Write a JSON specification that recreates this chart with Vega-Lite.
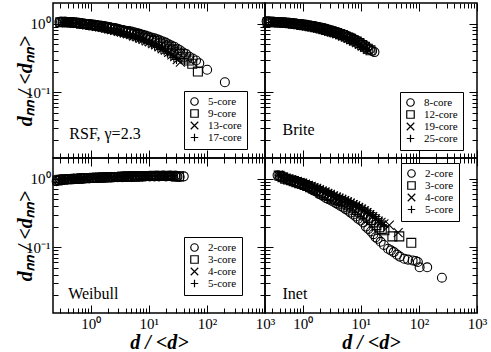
{
"$schema":"https://vega.github.io/schema/vega-lite/v6.json",
"padding":{"left":14,"top":1,"right":0,"bottom":0},
"spacing":0,
"bounds":"flush",
"columns":2,
"config":{
 "view":{"stroke":"black","strokeWidth":1.5},
 "font":"Liberation Serif, Times New Roman, serif",
 "axis":{"domain":false,"grid":false,"tickColor":"black","tickWidth":1,"labelColor":"black","labelFont":"Liberation Serif, Times New Roman, serif","labelFontSize":15,"titleColor":"black","titleFont":"Liberation Serif, Times New Roman, serif","titleFontSize":20,"titleFontWeight":"bold","titleFontStyle":"italic","labelOverlap":false,"labelFlush":false,"labelBound":false},
 "legend":{"strokeColor":"black","strokeWidth":1,"padding":5,"labelFont":"Liberation Serif, Times New Roman, serif","labelFontSize":11,"labelColor":"black","symbolStrokeColor":"black","symbolSize":56,"symbolStrokeWidth":1.2,"rowPadding":-2,"labelOffset":8,"fillColor":"white","title":null},
 "text":{"font":"Liberation Serif, Times New Roman, serif"}
},
"datasets":{
"rsf":[
{"s":"5-core","x":0.29,"y":1.06},{"s":"5-core","x":0.31,"y":1.07},{"s":"5-core","x":0.33,"y":1.06},{"s":"5-core","x":0.36,"y":1.07},{"s":"5-core","x":0.39,"y":1.06},{"s":"5-core","x":0.42,"y":1.06},{"s":"5-core","x":0.46,"y":1.05},{"s":"5-core","x":0.5,"y":1.05},{"s":"5-core","x":0.55,"y":1.04},{"s":"5-core","x":0.6,"y":1.03},{"s":"5-core","x":0.66,"y":1.02},{"s":"5-core","x":0.72,"y":1.01},{"s":"5-core","x":0.79,"y":1.0},{"s":"5-core","x":0.87,"y":0.99},{"s":"5-core","x":0.95,"y":0.98},{"s":"5-core","x":1.05,"y":0.97},{"s":"5-core","x":1.15,"y":0.96},{"s":"5-core","x":1.27,"y":0.95},{"s":"5-core","x":1.4,"y":0.94},{"s":"5-core","x":1.55,"y":0.93},{"s":"5-core","x":1.7,"y":0.92},{"s":"5-core","x":1.9,"y":0.9},{"s":"5-core","x":2.1,"y":0.89},{"s":"5-core","x":2.35,"y":0.87},{"s":"5-core","x":2.6,"y":0.86},{"s":"5-core","x":2.9,"y":0.84},{"s":"5-core","x":3.2,"y":0.82},{"s":"5-core","x":3.6,"y":0.81},{"s":"5-core","x":4.0,"y":0.79},{"s":"5-core","x":4.5,"y":0.78},{"s":"5-core","x":5.0,"y":0.77},{"s":"5-core","x":5.6,"y":0.75},{"s":"5-core","x":6.3,"y":0.73},{"s":"5-core","x":7.0,"y":0.71},{"s":"5-core","x":7.9,"y":0.69},{"s":"5-core","x":8.8,"y":0.67},{"s":"5-core","x":9.9,"y":0.65},{"s":"5-core","x":11,"y":0.63},{"s":"5-core","x":12.5,"y":0.61},{"s":"5-core","x":14,"y":0.59},{"s":"5-core","x":15.5,"y":0.57},{"s":"5-core","x":17.5,"y":0.55},{"s":"5-core","x":19.5,"y":0.53},{"s":"5-core","x":22,"y":0.5},{"s":"5-core","x":24.5,"y":0.48},{"s":"5-core","x":27.5,"y":0.46},{"s":"5-core","x":31,"y":0.43},{"s":"5-core","x":34.5,"y":0.41},{"s":"5-core","x":39,"y":0.38},{"s":"5-core","x":44,"y":0.36},{"s":"5-core","x":50,"y":0.33},{"s":"5-core","x":57,"y":0.31},{"s":"5-core","x":65,"y":0.29},{"s":"5-core","x":74,"y":0.265},{"s":"5-core","x":101,"y":0.213},{"s":"5-core","x":204,"y":0.14},
{"s":"9-core","x":0.3,"y":1.05},{"s":"9-core","x":0.34,"y":1.06},{"s":"9-core","x":0.38,"y":1.05},{"s":"9-core","x":0.43,"y":1.05},{"s":"9-core","x":0.48,"y":1.04},{"s":"9-core","x":0.54,"y":1.03},{"s":"9-core","x":0.61,"y":1.02},{"s":"9-core","x":0.69,"y":1.0},{"s":"9-core","x":0.78,"y":0.99},{"s":"9-core","x":0.88,"y":0.98},{"s":"9-core","x":1.0,"y":0.96},{"s":"9-core","x":1.13,"y":0.95},{"s":"9-core","x":1.28,"y":0.93},{"s":"9-core","x":1.45,"y":0.92},{"s":"9-core","x":1.65,"y":0.9},{"s":"9-core","x":1.87,"y":0.88},{"s":"9-core","x":2.1,"y":0.86},{"s":"9-core","x":2.4,"y":0.84},{"s":"9-core","x":2.7,"y":0.82},{"s":"9-core","x":3.1,"y":0.8},{"s":"9-core","x":3.5,"y":0.78},{"s":"9-core","x":4.0,"y":0.76},{"s":"9-core","x":4.5,"y":0.74},{"s":"9-core","x":5.1,"y":0.72},{"s":"9-core","x":5.8,"y":0.7},{"s":"9-core","x":6.6,"y":0.68},{"s":"9-core","x":7.5,"y":0.65},{"s":"9-core","x":8.5,"y":0.63},{"s":"9-core","x":9.6,"y":0.61},{"s":"9-core","x":11,"y":0.58},{"s":"9-core","x":12.5,"y":0.56},{"s":"9-core","x":14,"y":0.53},{"s":"9-core","x":16,"y":0.51},{"s":"9-core","x":18,"y":0.48},{"s":"9-core","x":20.5,"y":0.46},{"s":"9-core","x":23,"y":0.43},{"s":"9-core","x":26,"y":0.41},{"s":"9-core","x":30,"y":0.38},{"s":"9-core","x":34,"y":0.36},{"s":"9-core","x":38,"y":0.33},{"s":"9-core","x":43,"y":0.31},{"s":"9-core","x":49,"y":0.29},{"s":"9-core","x":56,"y":0.26},{"s":"9-core","x":70,"y":0.2},
{"s":"13-core","x":0.32,"y":1.04},{"s":"13-core","x":0.36,"y":1.05},{"s":"13-core","x":0.41,"y":1.04},{"s":"13-core","x":0.46,"y":1.03},{"s":"13-core","x":0.52,"y":1.02},{"s":"13-core","x":0.59,"y":1.01},{"s":"13-core","x":0.67,"y":0.99},{"s":"13-core","x":0.76,"y":0.98},{"s":"13-core","x":0.86,"y":0.96},{"s":"13-core","x":0.97,"y":0.95},{"s":"13-core","x":1.1,"y":0.93},{"s":"13-core","x":1.25,"y":0.91},{"s":"13-core","x":1.42,"y":0.9},{"s":"13-core","x":1.6,"y":0.88},{"s":"13-core","x":1.82,"y":0.86},{"s":"13-core","x":2.05,"y":0.84},{"s":"13-core","x":2.3,"y":0.82},{"s":"13-core","x":2.6,"y":0.8},{"s":"13-core","x":3.0,"y":0.77},{"s":"13-core","x":3.4,"y":0.75},{"s":"13-core","x":3.8,"y":0.73},{"s":"13-core","x":4.3,"y":0.71},{"s":"13-core","x":4.9,"y":0.69},{"s":"13-core","x":5.5,"y":0.66},{"s":"13-core","x":6.3,"y":0.64},{"s":"13-core","x":7.1,"y":0.61},{"s":"13-core","x":8.0,"y":0.59},{"s":"13-core","x":9.1,"y":0.56},{"s":"13-core","x":10.3,"y":0.54},{"s":"13-core","x":11.7,"y":0.51},{"s":"13-core","x":13.2,"y":0.49},{"s":"13-core","x":15,"y":0.46},{"s":"13-core","x":17,"y":0.43},{"s":"13-core","x":19.3,"y":0.41},{"s":"13-core","x":22,"y":0.38},{"s":"13-core","x":25,"y":0.35},{"s":"13-core","x":28,"y":0.33},{"s":"13-core","x":31,"y":0.3},{"s":"13-core","x":35,"y":0.275},
{"s":"17-core","x":0.33,"y":1.03},{"s":"17-core","x":0.38,"y":1.04},{"s":"17-core","x":0.43,"y":1.03},{"s":"17-core","x":0.49,"y":1.02},{"s":"17-core","x":0.55,"y":1.01},{"s":"17-core","x":0.63,"y":0.99},{"s":"17-core","x":0.71,"y":0.98},{"s":"17-core","x":0.8,"y":0.96},{"s":"17-core","x":0.91,"y":0.95},{"s":"17-core","x":1.03,"y":0.93},{"s":"17-core","x":1.17,"y":0.91},{"s":"17-core","x":1.33,"y":0.89},{"s":"17-core","x":1.5,"y":0.87},{"s":"17-core","x":1.7,"y":0.85},{"s":"17-core","x":1.93,"y":0.83},{"s":"17-core","x":2.2,"y":0.81},{"s":"17-core","x":2.5,"y":0.79},{"s":"17-core","x":2.8,"y":0.77},{"s":"17-core","x":3.2,"y":0.74},{"s":"17-core","x":3.6,"y":0.72},{"s":"17-core","x":4.1,"y":0.7},{"s":"17-core","x":4.6,"y":0.67},{"s":"17-core","x":5.2,"y":0.65},{"s":"17-core","x":5.9,"y":0.62},{"s":"17-core","x":6.7,"y":0.6},{"s":"17-core","x":7.6,"y":0.57},{"s":"17-core","x":8.6,"y":0.55},{"s":"17-core","x":9.8,"y":0.52},{"s":"17-core","x":11.1,"y":0.5},{"s":"17-core","x":12.6,"y":0.47},{"s":"17-core","x":14.3,"y":0.45},{"s":"17-core","x":16.2,"y":0.42},{"s":"17-core","x":18.4,"y":0.4},{"s":"17-core","x":21,"y":0.37},{"s":"17-core","x":24,"y":0.34},{"s":"17-core","x":27,"y":0.32},{"s":"17-core","x":30,"y":0.3}
],
"brite":[
{"s":"8-core","x":0.24,"y":1.08},{"s":"8-core","x":0.26,"y":1.08},{"s":"8-core","x":0.28,"y":1.07},{"s":"8-core","x":0.31,"y":1.07},{"s":"8-core","x":0.34,"y":1.06},{"s":"8-core","x":0.37,"y":1.06},{"s":"8-core","x":0.41,"y":1.05},{"s":"8-core","x":0.45,"y":1.05},{"s":"8-core","x":0.5,"y":1.04},{"s":"8-core","x":0.55,"y":1.03},{"s":"8-core","x":0.6,"y":1.03},{"s":"8-core","x":0.66,"y":1.02},{"s":"8-core","x":0.73,"y":1.01},{"s":"8-core","x":0.8,"y":1.0},{"s":"8-core","x":0.88,"y":0.99},{"s":"8-core","x":0.97,"y":0.98},{"s":"8-core","x":1.07,"y":0.97},{"s":"8-core","x":1.18,"y":0.96},{"s":"8-core","x":1.3,"y":0.94},{"s":"8-core","x":1.43,"y":0.93},{"s":"8-core","x":1.57,"y":0.92},{"s":"8-core","x":1.73,"y":0.9},{"s":"8-core","x":1.9,"y":0.89},{"s":"8-core","x":2.1,"y":0.87},{"s":"8-core","x":2.3,"y":0.86},{"s":"8-core","x":2.55,"y":0.84},{"s":"8-core","x":2.8,"y":0.82},{"s":"8-core","x":3.1,"y":0.8},{"s":"8-core","x":3.4,"y":0.78},{"s":"8-core","x":3.7,"y":0.76},{"s":"8-core","x":4.1,"y":0.74},{"s":"8-core","x":4.5,"y":0.72},{"s":"8-core","x":5.0,"y":0.7},{"s":"8-core","x":5.5,"y":0.68},{"s":"8-core","x":6.0,"y":0.65},{"s":"8-core","x":6.6,"y":0.63},{"s":"8-core","x":7.3,"y":0.61},{"s":"8-core","x":8.0,"y":0.58},{"s":"8-core","x":8.8,"y":0.56},{"s":"8-core","x":9.7,"y":0.53},{"s":"8-core","x":10.7,"y":0.5},{"s":"8-core","x":11.8,"y":0.48},{"s":"8-core","x":13,"y":0.45},{"s":"8-core","x":14.3,"y":0.42},{"s":"8-core","x":15.7,"y":0.4},{"s":"8-core","x":17.2,"y":0.385},
{"s":"12-core","x":0.25,"y":1.06},{"s":"12-core","x":0.28,"y":1.06},{"s":"12-core","x":0.31,"y":1.05},{"s":"12-core","x":0.35,"y":1.05},{"s":"12-core","x":0.39,"y":1.04},{"s":"12-core","x":0.44,"y":1.04},{"s":"12-core","x":0.49,"y":1.03},{"s":"12-core","x":0.55,"y":1.02},{"s":"12-core","x":0.61,"y":1.01},{"s":"12-core","x":0.68,"y":1.0},{"s":"12-core","x":0.76,"y":0.99},{"s":"12-core","x":0.85,"y":0.98},{"s":"12-core","x":0.95,"y":0.96},{"s":"12-core","x":1.06,"y":0.95},{"s":"12-core","x":1.18,"y":0.94},{"s":"12-core","x":1.32,"y":0.92},{"s":"12-core","x":1.47,"y":0.91},{"s":"12-core","x":1.64,"y":0.89},{"s":"12-core","x":1.83,"y":0.87},{"s":"12-core","x":2.04,"y":0.85},{"s":"12-core","x":2.28,"y":0.83},{"s":"12-core","x":2.54,"y":0.81},{"s":"12-core","x":2.83,"y":0.79},{"s":"12-core","x":3.16,"y":0.77},{"s":"12-core","x":3.5,"y":0.75},{"s":"12-core","x":3.9,"y":0.73},{"s":"12-core","x":4.4,"y":0.7},{"s":"12-core","x":4.9,"y":0.68},{"s":"12-core","x":5.5,"y":0.65},{"s":"12-core","x":6.1,"y":0.63},{"s":"12-core","x":6.8,"y":0.6},{"s":"12-core","x":7.6,"y":0.57},{"s":"12-core","x":8.5,"y":0.55},{"s":"12-core","x":9.5,"y":0.52},{"s":"12-core","x":10.6,"y":0.49},{"s":"12-core","x":11.8,"y":0.46},{"s":"12-core","x":13.2,"y":0.43},{"s":"12-core","x":14.7,"y":0.41},
{"s":"19-core","x":0.27,"y":1.05},{"s":"19-core","x":0.3,"y":1.06},{"s":"19-core","x":0.34,"y":1.05},{"s":"19-core","x":0.38,"y":1.04},{"s":"19-core","x":0.42,"y":1.04},{"s":"19-core","x":0.47,"y":1.03},{"s":"19-core","x":0.53,"y":1.02},{"s":"19-core","x":0.59,"y":1.01},{"s":"19-core","x":0.66,"y":1.0},{"s":"19-core","x":0.74,"y":0.99},{"s":"19-core","x":0.83,"y":0.97},{"s":"19-core","x":0.93,"y":0.96},{"s":"19-core","x":1.04,"y":0.95},{"s":"19-core","x":1.16,"y":0.93},{"s":"19-core","x":1.3,"y":0.92},{"s":"19-core","x":1.45,"y":0.9},{"s":"19-core","x":1.62,"y":0.88},{"s":"19-core","x":1.81,"y":0.87},{"s":"19-core","x":2.02,"y":0.85},{"s":"19-core","x":2.26,"y":0.83},{"s":"19-core","x":2.52,"y":0.8},{"s":"19-core","x":2.81,"y":0.78},{"s":"19-core","x":3.14,"y":0.76},{"s":"19-core","x":3.5,"y":0.74},{"s":"19-core","x":3.9,"y":0.71},{"s":"19-core","x":4.4,"y":0.69},{"s":"19-core","x":4.9,"y":0.66},{"s":"19-core","x":5.5,"y":0.64},{"s":"19-core","x":6.1,"y":0.61},{"s":"19-core","x":6.8,"y":0.58},{"s":"19-core","x":7.6,"y":0.56},{"s":"19-core","x":8.5,"y":0.53},{"s":"19-core","x":9.5,"y":0.5},{"s":"19-core","x":10.6,"y":0.47},{"s":"19-core","x":11.8,"y":0.45},{"s":"19-core","x":13.2,"y":0.42},
{"s":"25-core","x":0.28,"y":1.04},{"s":"25-core","x":0.31,"y":1.05},{"s":"25-core","x":0.35,"y":1.04},{"s":"25-core","x":0.39,"y":1.04},{"s":"25-core","x":0.44,"y":1.03},{"s":"25-core","x":0.49,"y":1.02},{"s":"25-core","x":0.55,"y":1.01},{"s":"25-core","x":0.62,"y":1.0},{"s":"25-core","x":0.69,"y":0.99},{"s":"25-core","x":0.77,"y":0.98},{"s":"25-core","x":0.86,"y":0.96},{"s":"25-core","x":0.96,"y":0.95},{"s":"25-core","x":1.07,"y":0.94},{"s":"25-core","x":1.2,"y":0.92},{"s":"25-core","x":1.34,"y":0.91},{"s":"25-core","x":1.5,"y":0.89},{"s":"25-core","x":1.67,"y":0.87},{"s":"25-core","x":1.87,"y":0.85},{"s":"25-core","x":2.09,"y":0.83},{"s":"25-core","x":2.33,"y":0.81},{"s":"25-core","x":2.6,"y":0.79},{"s":"25-core","x":2.9,"y":0.77},{"s":"25-core","x":3.24,"y":0.75},{"s":"25-core","x":3.6,"y":0.72},{"s":"25-core","x":4.0,"y":0.7},{"s":"25-core","x":4.5,"y":0.67},{"s":"25-core","x":5.0,"y":0.65},{"s":"25-core","x":5.6,"y":0.62},{"s":"25-core","x":6.3,"y":0.6},{"s":"25-core","x":7.0,"y":0.57},{"s":"25-core","x":7.8,"y":0.54},{"s":"25-core","x":8.7,"y":0.52},{"s":"25-core","x":9.7,"y":0.49},{"s":"25-core","x":10.8,"y":0.46},{"s":"25-core","x":12,"y":0.44},{"s":"25-core","x":13,"y":0.42}
],
"weibull":[
{"s":"2-core","x":0.26,"y":0.92},{"s":"2-core","x":0.28,"y":0.95},{"s":"2-core","x":0.3,"y":0.97},{"s":"2-core","x":0.33,"y":0.96},{"s":"2-core","x":0.36,"y":0.98},{"s":"2-core","x":0.39,"y":0.97},{"s":"2-core","x":0.43,"y":0.99},{"s":"2-core","x":0.47,"y":0.98},{"s":"2-core","x":0.51,"y":1.0},{"s":"2-core","x":0.56,"y":0.99},{"s":"2-core","x":0.61,"y":1.0},{"s":"2-core","x":0.67,"y":1.01},{"s":"2-core","x":0.73,"y":1.0},{"s":"2-core","x":0.8,"y":1.01},{"s":"2-core","x":0.88,"y":1.02},{"s":"2-core","x":0.96,"y":1.01},{"s":"2-core","x":1.05,"y":1.02},{"s":"2-core","x":1.15,"y":1.03},{"s":"2-core","x":1.26,"y":1.02},{"s":"2-core","x":1.38,"y":1.03},{"s":"2-core","x":1.51,"y":1.04},{"s":"2-core","x":1.65,"y":1.03},{"s":"2-core","x":1.81,"y":1.04},{"s":"2-core","x":1.98,"y":1.05},{"s":"2-core","x":2.2,"y":1.04},{"s":"2-core","x":2.4,"y":1.05},{"s":"2-core","x":2.6,"y":1.06},{"s":"2-core","x":2.9,"y":1.05},{"s":"2-core","x":3.2,"y":1.06},{"s":"2-core","x":3.5,"y":1.05},{"s":"2-core","x":3.8,"y":1.07},{"s":"2-core","x":4.2,"y":1.06},{"s":"2-core","x":4.6,"y":1.07},{"s":"2-core","x":5.0,"y":1.06},{"s":"2-core","x":5.5,"y":1.07},{"s":"2-core","x":6.0,"y":1.08},{"s":"2-core","x":6.6,"y":1.07},{"s":"2-core","x":7.2,"y":1.08},{"s":"2-core","x":7.9,"y":1.07},{"s":"2-core","x":8.7,"y":1.08},{"s":"2-core","x":9.5,"y":1.09},{"s":"2-core","x":10.4,"y":1.08},{"s":"2-core","x":11.4,"y":1.09},{"s":"2-core","x":12.5,"y":1.08},{"s":"2-core","x":13.7,"y":1.09},{"s":"2-core","x":15,"y":1.08},{"s":"2-core","x":16.5,"y":1.09},{"s":"2-core","x":18,"y":1.1},{"s":"2-core","x":19.8,"y":1.08},{"s":"2-core","x":21.7,"y":1.09},{"s":"2-core","x":23.8,"y":1.1},{"s":"2-core","x":26,"y":1.08},{"s":"2-core","x":28.5,"y":1.1},{"s":"2-core","x":31,"y":1.07},{"s":"2-core","x":34,"y":1.06},{"s":"2-core","x":40,"y":1.08},
{"s":"3-core","x":0.27,"y":0.94},{"s":"3-core","x":0.3,"y":0.96},{"s":"3-core","x":0.34,"y":0.97},{"s":"3-core","x":0.38,"y":0.98},{"s":"3-core","x":0.43,"y":0.98},{"s":"3-core","x":0.49,"y":0.99},{"s":"3-core","x":0.55,"y":1.0},{"s":"3-core","x":0.62,"y":1.0},{"s":"3-core","x":0.7,"y":1.01},{"s":"3-core","x":0.79,"y":1.01},{"s":"3-core","x":0.9,"y":1.02},{"s":"3-core","x":1.02,"y":1.02},{"s":"3-core","x":1.15,"y":1.03},{"s":"3-core","x":1.3,"y":1.03},{"s":"3-core","x":1.47,"y":1.04},{"s":"3-core","x":1.67,"y":1.04},{"s":"3-core","x":1.89,"y":1.05},{"s":"3-core","x":2.14,"y":1.05},{"s":"3-core","x":2.42,"y":1.06},{"s":"3-core","x":2.74,"y":1.06},{"s":"3-core","x":3.1,"y":1.06},{"s":"3-core","x":3.5,"y":1.07},{"s":"3-core","x":4.0,"y":1.07},{"s":"3-core","x":4.5,"y":1.07},{"s":"3-core","x":5.1,"y":1.08},{"s":"3-core","x":5.8,"y":1.08},{"s":"3-core","x":6.5,"y":1.08},{"s":"3-core","x":7.4,"y":1.09},{"s":"3-core","x":8.4,"y":1.09},{"s":"3-core","x":9.5,"y":1.09},{"s":"3-core","x":10.8,"y":1.09},{"s":"3-core","x":12.2,"y":1.1},{"s":"3-core","x":13.8,"y":1.09},{"s":"3-core","x":15.6,"y":1.1},{"s":"3-core","x":17.7,"y":1.09},{"s":"3-core","x":20,"y":1.1},{"s":"3-core","x":22.7,"y":1.09},{"s":"3-core","x":25.7,"y":1.1},{"s":"3-core","x":29,"y":1.08},{"s":"3-core","x":33,"y":1.08},
{"s":"4-core","x":0.28,"y":0.96},{"s":"4-core","x":0.32,"y":0.97},{"s":"4-core","x":0.36,"y":0.98},{"s":"4-core","x":0.41,"y":0.99},{"s":"4-core","x":0.46,"y":0.99},{"s":"4-core","x":0.52,"y":1.0},{"s":"4-core","x":0.59,"y":1.01},{"s":"4-core","x":0.67,"y":1.01},{"s":"4-core","x":0.76,"y":1.02},{"s":"4-core","x":0.86,"y":1.02},{"s":"4-core","x":0.98,"y":1.03},{"s":"4-core","x":1.11,"y":1.03},{"s":"4-core","x":1.26,"y":1.04},{"s":"4-core","x":1.43,"y":1.04},{"s":"4-core","x":1.62,"y":1.05},{"s":"4-core","x":1.84,"y":1.05},{"s":"4-core","x":2.08,"y":1.06},{"s":"4-core","x":2.36,"y":1.06},{"s":"4-core","x":2.68,"y":1.07},{"s":"4-core","x":3.04,"y":1.07},{"s":"4-core","x":3.45,"y":1.07},{"s":"4-core","x":3.9,"y":1.08},{"s":"4-core","x":4.4,"y":1.08},{"s":"4-core","x":5.0,"y":1.08},{"s":"4-core","x":5.7,"y":1.09},{"s":"4-core","x":6.5,"y":1.09},{"s":"4-core","x":7.3,"y":1.09},{"s":"4-core","x":8.3,"y":1.1},{"s":"4-core","x":9.4,"y":1.1},{"s":"4-core","x":10.7,"y":1.1},{"s":"4-core","x":12.1,"y":1.1},{"s":"4-core","x":13.7,"y":1.1},{"s":"4-core","x":15.6,"y":1.11},{"s":"4-core","x":17.7,"y":1.1},{"s":"4-core","x":20,"y":1.11},{"s":"4-core","x":22.7,"y":1.1},{"s":"4-core","x":26,"y":1.1},{"s":"4-core","x":29,"y":1.09},
{"s":"5-core","x":0.29,"y":0.97},{"s":"5-core","x":0.33,"y":0.98},{"s":"5-core","x":0.37,"y":0.99},{"s":"5-core","x":0.42,"y":1.0},{"s":"5-core","x":0.48,"y":1.0},{"s":"5-core","x":0.54,"y":1.01},{"s":"5-core","x":0.61,"y":1.01},{"s":"5-core","x":0.69,"y":1.02},{"s":"5-core","x":0.78,"y":1.02},{"s":"5-core","x":0.89,"y":1.03},{"s":"5-core","x":1.0,"y":1.03},{"s":"5-core","x":1.14,"y":1.04},{"s":"5-core","x":1.29,"y":1.04},{"s":"5-core","x":1.46,"y":1.05},{"s":"5-core","x":1.66,"y":1.05},{"s":"5-core","x":1.88,"y":1.06},{"s":"5-core","x":2.13,"y":1.06},{"s":"5-core","x":2.41,"y":1.07},{"s":"5-core","x":2.73,"y":1.07},{"s":"5-core","x":3.1,"y":1.07},{"s":"5-core","x":3.5,"y":1.08},{"s":"5-core","x":4.0,"y":1.08},{"s":"5-core","x":4.5,"y":1.09},{"s":"5-core","x":5.1,"y":1.09},{"s":"5-core","x":5.8,"y":1.09},{"s":"5-core","x":6.6,"y":1.1},{"s":"5-core","x":7.5,"y":1.1},{"s":"5-core","x":8.5,"y":1.1},{"s":"5-core","x":9.6,"y":1.1},{"s":"5-core","x":10.9,"y":1.11},{"s":"5-core","x":12.4,"y":1.11},{"s":"5-core","x":14,"y":1.11},{"s":"5-core","x":15.9,"y":1.11},{"s":"5-core","x":18,"y":1.11},{"s":"5-core","x":20.5,"y":1.11},{"s":"5-core","x":23.2,"y":1.1},{"s":"5-core","x":26.3,"y":1.1}
],
"inet":[
{"s":"2-core","x":0.37,"y":1.12},{"s":"2-core","x":0.41,"y":1.08},{"s":"2-core","x":0.45,"y":1.05},{"s":"2-core","x":0.5,"y":1.02},{"s":"2-core","x":0.55,"y":0.98},{"s":"2-core","x":0.6,"y":0.95},{"s":"2-core","x":0.66,"y":0.92},{"s":"2-core","x":0.72,"y":0.9},{"s":"2-core","x":0.8,"y":0.87},{"s":"2-core","x":0.88,"y":0.84},{"s":"2-core","x":0.97,"y":0.82},{"s":"2-core","x":1.06,"y":0.8},{"s":"2-core","x":1.17,"y":0.77},{"s":"2-core","x":1.29,"y":0.74},{"s":"2-core","x":1.42,"y":0.7},{"s":"2-core","x":1.56,"y":0.67},{"s":"2-core","x":1.72,"y":0.65},{"s":"2-core","x":1.9,"y":0.6},{"s":"2-core","x":2.1,"y":0.58},{"s":"2-core","x":2.3,"y":0.55},{"s":"2-core","x":2.55,"y":0.52},{"s":"2-core","x":2.8,"y":0.5},{"s":"2-core","x":3.1,"y":0.48},{"s":"2-core","x":3.4,"y":0.46},{"s":"2-core","x":3.75,"y":0.44},{"s":"2-core","x":4.1,"y":0.42},{"s":"2-core","x":4.5,"y":0.4},{"s":"2-core","x":5.0,"y":0.38},{"s":"2-core","x":5.5,"y":0.36},{"s":"2-core","x":6.1,"y":0.34},{"s":"2-core","x":6.7,"y":0.32},{"s":"2-core","x":7.4,"y":0.3},{"s":"2-core","x":8.2,"y":0.28},{"s":"2-core","x":9.0,"y":0.26},{"s":"2-core","x":10,"y":0.245},{"s":"2-core","x":11,"y":0.23},{"s":"2-core","x":12.2,"y":0.2},{"s":"2-core","x":13.5,"y":0.185},{"s":"2-core","x":15,"y":0.17},{"s":"2-core","x":16.5,"y":0.155},{"s":"2-core","x":18,"y":0.14},{"s":"2-core","x":19.5,"y":0.133},{"s":"2-core","x":22,"y":0.12},{"s":"2-core","x":25,"y":0.108},{"s":"2-core","x":29.5,"y":0.095},{"s":"2-core","x":33,"y":0.09},{"s":"2-core","x":37,"y":0.085},{"s":"2-core","x":42,"y":0.078},{"s":"2-core","x":47,"y":0.073},{"s":"2-core","x":56,"y":0.068},{"s":"2-core","x":65,"y":0.066},{"s":"2-core","x":78,"y":0.064},{"s":"2-core","x":88,"y":0.063},{"s":"2-core","x":96,"y":0.061},{"s":"2-core","x":103,"y":0.051},{"s":"2-core","x":139,"y":0.051},{"s":"2-core","x":249,"y":0.036},
{"s":"3-core","x":0.4,"y":1.1},{"s":"3-core","x":0.45,"y":1.05},{"s":"3-core","x":0.5,"y":1.0},{"s":"3-core","x":0.56,"y":0.97},{"s":"3-core","x":0.63,"y":0.95},{"s":"3-core","x":0.7,"y":0.92},{"s":"3-core","x":0.78,"y":0.89},{"s":"3-core","x":0.87,"y":0.86},{"s":"3-core","x":0.97,"y":0.84},{"s":"3-core","x":1.08,"y":0.81},{"s":"3-core","x":1.2,"y":0.78},{"s":"3-core","x":1.34,"y":0.75},{"s":"3-core","x":1.5,"y":0.72},{"s":"3-core","x":1.67,"y":0.69},{"s":"3-core","x":1.86,"y":0.66},{"s":"3-core","x":2.08,"y":0.63},{"s":"3-core","x":2.32,"y":0.61},{"s":"3-core","x":2.6,"y":0.58},{"s":"3-core","x":2.9,"y":0.56},{"s":"3-core","x":3.2,"y":0.53},{"s":"3-core","x":3.6,"y":0.51},{"s":"3-core","x":4.0,"y":0.49},{"s":"3-core","x":4.5,"y":0.47},{"s":"3-core","x":5.0,"y":0.45},{"s":"3-core","x":5.6,"y":0.43},{"s":"3-core","x":6.2,"y":0.41},{"s":"3-core","x":6.9,"y":0.39},{"s":"3-core","x":7.7,"y":0.37},{"s":"3-core","x":8.6,"y":0.35},{"s":"3-core","x":9.6,"y":0.33},{"s":"3-core","x":10.7,"y":0.31},{"s":"3-core","x":12,"y":0.29},{"s":"3-core","x":13.4,"y":0.27},{"s":"3-core","x":15,"y":0.25},{"s":"3-core","x":16.7,"y":0.23},{"s":"3-core","x":18.6,"y":0.21},{"s":"3-core","x":20.8,"y":0.195},{"s":"3-core","x":23,"y":0.185},{"s":"3-core","x":25.5,"y":0.177},{"s":"3-core","x":35,"y":0.144},{"s":"3-core","x":46,"y":0.144},{"s":"3-core","x":74,"y":0.116},
{"s":"4-core","x":0.38,"y":1.13},{"s":"4-core","x":0.42,"y":1.09},{"s":"4-core","x":0.47,"y":1.05},{"s":"4-core","x":0.52,"y":1.02},{"s":"4-core","x":0.58,"y":0.99},{"s":"4-core","x":0.65,"y":0.96},{"s":"4-core","x":0.72,"y":0.94},{"s":"4-core","x":0.81,"y":0.91},{"s":"4-core","x":0.9,"y":0.88},{"s":"4-core","x":1.0,"y":0.86},{"s":"4-core","x":1.12,"y":0.83},{"s":"4-core","x":1.25,"y":0.8},{"s":"4-core","x":1.4,"y":0.77},{"s":"4-core","x":1.56,"y":0.74},{"s":"4-core","x":1.74,"y":0.72},{"s":"4-core","x":1.94,"y":0.69},{"s":"4-core","x":2.17,"y":0.66},{"s":"4-core","x":2.42,"y":0.64},{"s":"4-core","x":2.7,"y":0.61},{"s":"4-core","x":3.0,"y":0.59},{"s":"4-core","x":3.4,"y":0.56},{"s":"4-core","x":3.8,"y":0.54},{"s":"4-core","x":4.2,"y":0.52},{"s":"4-core","x":4.7,"y":0.5},{"s":"4-core","x":5.3,"y":0.48},{"s":"4-core","x":5.9,"y":0.46},{"s":"4-core","x":6.6,"y":0.44},{"s":"4-core","x":7.4,"y":0.42},{"s":"4-core","x":8.2,"y":0.4},{"s":"4-core","x":9.2,"y":0.38},{"s":"4-core","x":10.3,"y":0.36},{"s":"4-core","x":11.5,"y":0.34},{"s":"4-core","x":12.8,"y":0.32},{"s":"4-core","x":14.3,"y":0.3},{"s":"4-core","x":16,"y":0.28},{"s":"4-core","x":17.8,"y":0.26},{"s":"4-core","x":20,"y":0.24},{"s":"4-core","x":22.3,"y":0.23},{"s":"4-core","x":25,"y":0.22},{"s":"4-core","x":31,"y":0.21},{"s":"4-core","x":44,"y":0.163},
{"s":"5-core","x":0.39,"y":1.12},{"s":"5-core","x":0.43,"y":1.1},{"s":"5-core","x":0.48,"y":1.06},{"s":"5-core","x":0.54,"y":1.03},{"s":"5-core","x":0.6,"y":1.0},{"s":"5-core","x":0.67,"y":0.97},{"s":"5-core","x":0.75,"y":0.95},{"s":"5-core","x":0.84,"y":0.92},{"s":"5-core","x":0.94,"y":0.9},{"s":"5-core","x":1.05,"y":0.87},{"s":"5-core","x":1.17,"y":0.84},{"s":"5-core","x":1.31,"y":0.81},{"s":"5-core","x":1.46,"y":0.79},{"s":"5-core","x":1.63,"y":0.76},{"s":"5-core","x":1.82,"y":0.73},{"s":"5-core","x":2.03,"y":0.71},{"s":"5-core","x":2.27,"y":0.68},{"s":"5-core","x":2.53,"y":0.66},{"s":"5-core","x":2.83,"y":0.63},{"s":"5-core","x":3.16,"y":0.61},{"s":"5-core","x":3.5,"y":0.58},{"s":"5-core","x":3.9,"y":0.56},{"s":"5-core","x":4.4,"y":0.54},{"s":"5-core","x":4.9,"y":0.52},{"s":"5-core","x":5.5,"y":0.5},{"s":"5-core","x":6.1,"y":0.48},{"s":"5-core","x":6.8,"y":0.46},{"s":"5-core","x":7.6,"y":0.44},{"s":"5-core","x":8.5,"y":0.42},{"s":"5-core","x":9.5,"y":0.4},{"s":"5-core","x":10.6,"y":0.38},{"s":"5-core","x":11.8,"y":0.36},{"s":"5-core","x":13.2,"y":0.34},{"s":"5-core","x":14.7,"y":0.32},{"s":"5-core","x":16.4,"y":0.3},{"s":"5-core","x":18.3,"y":0.28},{"s":"5-core","x":20.4,"y":0.26},{"s":"5-core","x":22.8,"y":0.24},{"s":"5-core","x":25.5,"y":0.2}
]
},
"resolve":{"scale":{"shape":"independent"},"legend":{"shape":"independent"}},
"concat":[
 {"width":212,"height":155,"data":{"name":"rsf"},
  "layer":[
   {"mark":{"type":"point","filled":false,"size":80,"strokeWidth":1.1,"color":"black","opacity":1},
    "encoding":{
     "x":{"field":"x","type":"quantitative","scale":{"type":"log","domain":[0.225,1000],"nice":false},"axis":{"orient":"bottom","values":[0.3,0.4,0.5,0.6,0.7,0.8,0.9,1,2,3,4,5,6,7,8,9,10,20,30,40,50,60,70,80,90,100,200,300,400,500,600,700,800,900,1000],"labels":false,"title":null,"tickSize":{"condition":{"test":"datum.value==0.1||datum.value==1||datum.value==10||datum.value==100||datum.value==1000","value":-8},"value":-5}}},
     "y":{"field":"y","type":"quantitative","scale":{"type":"log","domain":[0.011,2],"nice":false},"axis":{"orient":"left","values":[0.02,0.03,0.04,0.05,0.06,0.07,0.08,0.09,0.1,0.2,0.3,0.4,0.5,0.6,0.7,0.8,0.9,1],"labelExpr":"datum.value==1?'10⁰':datum.value==0.1?'10⁻¹':''","labelPadding":11,"title":"dₙₙ / <dₙₙ>","titleBaseline":"alphabetic","titleX":-22,"tickSize":{"condition":{"test":"datum.value==0.1||datum.value==1||datum.value==10||datum.value==100||datum.value==1000","value":-8},"value":-5}}},
     "shape":{"field":"s","type":"nominal","scale":{"domain":["5-core","9-core","13-core","17-core"],"range":["circle","square","M-1,-1L1,1M1,-1L-1,1","M-1,0L1,0M0,-1L0,1"]},"legend":{"orient":"none","legendX":131,"legendY":88}}
    }},
   {"data":{"values":[{"t":"RSF, γ=2.3","x":0.43,"y":0.021}]},
    "mark":{"type":"text","align":"left","baseline":"alphabetic","fontSize":16,"font":"Liberation Serif, Times New Roman, serif","color":"black"},
    "encoding":{
     "x":{"field":"x","type":"quantitative","scale":{"type":"log","domain":[0.225,1000],"nice":false},"axis":{"orient":"top","values":[0.3,0.4,0.5,0.6,0.7,0.8,0.9,1,2,3,4,5,6,7,8,9,10,20,30,40,50,60,70,80,90,100,200,300,400,500,600,700,800,900,1000],"labels":false,"title":null,"tickSize":{"condition":{"test":"datum.value==0.1||datum.value==1||datum.value==10||datum.value==100||datum.value==1000","value":-8},"value":-5}}},
     "y":{"field":"y","type":"quantitative","scale":{"type":"log","domain":[0.011,2],"nice":false},"axis":{"orient":"right","values":[0.02,0.03,0.04,0.05,0.06,0.07,0.08,0.09,0.1,0.2,0.3,0.4,0.5,0.6,0.7,0.8,0.9,1],"labels":false,"title":null,"tickSize":{"condition":{"test":"datum.value==0.1||datum.value==1||datum.value==10||datum.value==100||datum.value==1000","value":-8},"value":-5}}},
     "text":{"field":"t"}
    }}
  ],
  "resolve":{"axis":{"x":"independent","y":"independent"}}
 },
 {"width":212,"height":155,"data":{"name":"brite"},
  "layer":[
   {"mark":{"type":"point","filled":false,"size":80,"strokeWidth":1.1,"color":"black","opacity":1},
    "encoding":{
     "x":{"field":"x","type":"quantitative","scale":{"type":"log","domain":[0.225,1000],"nice":false},"axis":{"orient":"bottom","values":[0.3,0.4,0.5,0.6,0.7,0.8,0.9,1,2,3,4,5,6,7,8,9,10,20,30,40,50,60,70,80,90,100,200,300,400,500,600,700,800,900,1000],"labels":false,"title":null,"tickSize":{"condition":{"test":"datum.value==0.1||datum.value==1||datum.value==10||datum.value==100||datum.value==1000","value":-8},"value":-5}}},
     "y":{"field":"y","type":"quantitative","scale":{"type":"log","domain":[0.011,2],"nice":false},"axis":{"orient":"left","values":[0.02,0.03,0.04,0.05,0.06,0.07,0.08,0.09,0.1,0.2,0.3,0.4,0.5,0.6,0.7,0.8,0.9,1],"labels":false,"title":null,"tickSize":{"condition":{"test":"datum.value==0.1||datum.value==1||datum.value==10||datum.value==100||datum.value==1000","value":-8},"value":-5}}},
     "shape":{"field":"s","type":"nominal","scale":{"domain":["8-core","12-core","19-core","25-core"],"range":["circle","square","M-1,-1L1,1M1,-1L-1,1","M-1,0L1,0M0,-1L0,1"]},"legend":{"orient":"none","legendX":135,"legendY":89}}
    }},
   {"data":{"values":[{"t":"Brite","x":0.45,"y":0.024}]},
    "mark":{"type":"text","align":"left","baseline":"alphabetic","fontSize":16,"font":"Liberation Serif, Times New Roman, serif","color":"black"},
    "encoding":{
     "x":{"field":"x","type":"quantitative","scale":{"type":"log","domain":[0.225,1000],"nice":false},"axis":{"orient":"top","values":[0.3,0.4,0.5,0.6,0.7,0.8,0.9,1,2,3,4,5,6,7,8,9,10,20,30,40,50,60,70,80,90,100,200,300,400,500,600,700,800,900,1000],"labels":false,"title":null,"tickSize":{"condition":{"test":"datum.value==0.1||datum.value==1||datum.value==10||datum.value==100||datum.value==1000","value":-8},"value":-5}}},
     "y":{"field":"y","type":"quantitative","scale":{"type":"log","domain":[0.011,2],"nice":false},"axis":{"orient":"right","values":[0.02,0.03,0.04,0.05,0.06,0.07,0.08,0.09,0.1,0.2,0.3,0.4,0.5,0.6,0.7,0.8,0.9,1],"labels":false,"title":null,"tickSize":{"condition":{"test":"datum.value==0.1||datum.value==1||datum.value==10||datum.value==100||datum.value==1000","value":-8},"value":-5}}},
     "text":{"field":"t"}
    }}
  ],
  "resolve":{"axis":{"x":"independent","y":"independent"}}
 },
 {"width":212,"height":155,"data":{"name":"weibull"},
  "layer":[
   {"mark":{"type":"point","filled":false,"size":80,"strokeWidth":1.1,"color":"black","opacity":1},
    "encoding":{
     "x":{"field":"x","type":"quantitative","scale":{"type":"log","domain":[0.225,1000],"nice":false},"axis":{"orient":"bottom","values":[0.3,0.4,0.5,0.6,0.7,0.8,0.9,1,2,3,4,5,6,7,8,9,10,20,30,40,50,60,70,80,90,100,200,300,400,500,600,700,800,900,1000],"labelExpr":"datum.value==1?'10⁰':datum.value==10?'10¹':datum.value==100?'10²':datum.value==1000?'10³':''","labelPadding":11,"title":"d / <d>","titleBaseline":"alphabetic","titleY":35,"tickSize":{"condition":{"test":"datum.value==0.1||datum.value==1||datum.value==10||datum.value==100||datum.value==1000","value":-8},"value":-5}}},
     "y":{"field":"y","type":"quantitative","scale":{"type":"log","domain":[0.011,2],"nice":false},"axis":{"orient":"left","values":[0.02,0.03,0.04,0.05,0.06,0.07,0.08,0.09,0.1,0.2,0.3,0.4,0.5,0.6,0.7,0.8,0.9,1],"labelExpr":"datum.value==1?'10⁰':datum.value==0.1?'10⁻¹':''","labelPadding":11,"title":"dₙₙ / <dₙₙ>","titleBaseline":"alphabetic","titleX":-22,"tickSize":{"condition":{"test":"datum.value==0.1||datum.value==1||datum.value==10||datum.value==100||datum.value==1000","value":-8},"value":-5}}},
     "shape":{"field":"s","type":"nominal","scale":{"domain":["2-core","3-core","4-core","5-core"],"range":["circle","square","M-1,-1L1,1M1,-1L-1,1","M-1,0L1,0M0,-1L0,1"]},"legend":{"orient":"none","legendX":131,"legendY":79}}
    }},
   {"data":{"values":[{"t":"Weibull","x":0.41,"y":0.0178}]},
    "mark":{"type":"text","align":"left","baseline":"alphabetic","fontSize":16,"font":"Liberation Serif, Times New Roman, serif","color":"black"},
    "encoding":{
     "x":{"field":"x","type":"quantitative","scale":{"type":"log","domain":[0.225,1000],"nice":false},"axis":{"orient":"top","values":[0.3,0.4,0.5,0.6,0.7,0.8,0.9,1,2,3,4,5,6,7,8,9,10,20,30,40,50,60,70,80,90,100,200,300,400,500,600,700,800,900,1000],"labels":false,"title":null,"tickSize":{"condition":{"test":"datum.value==0.1||datum.value==1||datum.value==10||datum.value==100||datum.value==1000","value":-8},"value":-5}}},
     "y":{"field":"y","type":"quantitative","scale":{"type":"log","domain":[0.011,2],"nice":false},"axis":{"orient":"right","values":[0.02,0.03,0.04,0.05,0.06,0.07,0.08,0.09,0.1,0.2,0.3,0.4,0.5,0.6,0.7,0.8,0.9,1],"labels":false,"title":null,"tickSize":{"condition":{"test":"datum.value==0.1||datum.value==1||datum.value==10||datum.value==100||datum.value==1000","value":-8},"value":-5}}},
     "text":{"field":"t"}
    }}
  ],
  "resolve":{"axis":{"x":"independent","y":"independent"}}
 },
 {"width":212,"height":155,"data":{"name":"inet"},
  "layer":[
   {"mark":{"type":"point","filled":false,"size":80,"strokeWidth":1.1,"color":"black","opacity":1},
    "encoding":{
     "x":{"field":"x","type":"quantitative","scale":{"type":"log","domain":[0.225,1000],"nice":false},"axis":{"orient":"bottom","values":[0.3,0.4,0.5,0.6,0.7,0.8,0.9,1,2,3,4,5,6,7,8,9,10,20,30,40,50,60,70,80,90,100,200,300,400,500,600,700,800,900,1000],"labelExpr":"datum.value==1?'10⁰':datum.value==10?'10¹':datum.value==100?'10²':datum.value==1000?'10³':''","labelPadding":11,"title":"d / <d>","titleBaseline":"alphabetic","titleY":35,"tickSize":{"condition":{"test":"datum.value==0.1||datum.value==1||datum.value==10||datum.value==100||datum.value==1000","value":-8},"value":-5}}},
     "y":{"field":"y","type":"quantitative","scale":{"type":"log","domain":[0.011,2],"nice":false},"axis":{"orient":"left","values":[0.02,0.03,0.04,0.05,0.06,0.07,0.08,0.09,0.1,0.2,0.3,0.4,0.5,0.6,0.7,0.8,0.9,1],"labels":false,"title":null,"tickSize":{"condition":{"test":"datum.value==0.1||datum.value==1||datum.value==10||datum.value==100||datum.value==1000","value":-8},"value":-5}}},
     "shape":{"field":"s","type":"nominal","scale":{"domain":["2-core","3-core","4-core","5-core"],"range":["circle","square","M-1,-1L1,1M1,-1L-1,1","M-1,0L1,0M0,-1L0,1"]},"legend":{"orient":"none","legendX":136,"legendY":5}}
    }},
   {"data":{"values":[{"t":"Inet","x":0.45,"y":0.0178}]},
    "mark":{"type":"text","align":"left","baseline":"alphabetic","fontSize":16,"font":"Liberation Serif, Times New Roman, serif","color":"black"},
    "encoding":{
     "x":{"field":"x","type":"quantitative","scale":{"type":"log","domain":[0.225,1000],"nice":false},"axis":{"orient":"top","values":[0.3,0.4,0.5,0.6,0.7,0.8,0.9,1,2,3,4,5,6,7,8,9,10,20,30,40,50,60,70,80,90,100,200,300,400,500,600,700,800,900,1000],"labels":false,"title":null,"tickSize":{"condition":{"test":"datum.value==0.1||datum.value==1||datum.value==10||datum.value==100||datum.value==1000","value":-8},"value":-5}}},
     "y":{"field":"y","type":"quantitative","scale":{"type":"log","domain":[0.011,2],"nice":false},"axis":{"orient":"right","values":[0.02,0.03,0.04,0.05,0.06,0.07,0.08,0.09,0.1,0.2,0.3,0.4,0.5,0.6,0.7,0.8,0.9,1],"labels":false,"title":null,"tickSize":{"condition":{"test":"datum.value==0.1||datum.value==1||datum.value==10||datum.value==100||datum.value==1000","value":-8},"value":-5}}},
     "text":{"field":"t"}
    }}
  ],
  "resolve":{"axis":{"x":"independent","y":"independent"}}
 }
]
}
